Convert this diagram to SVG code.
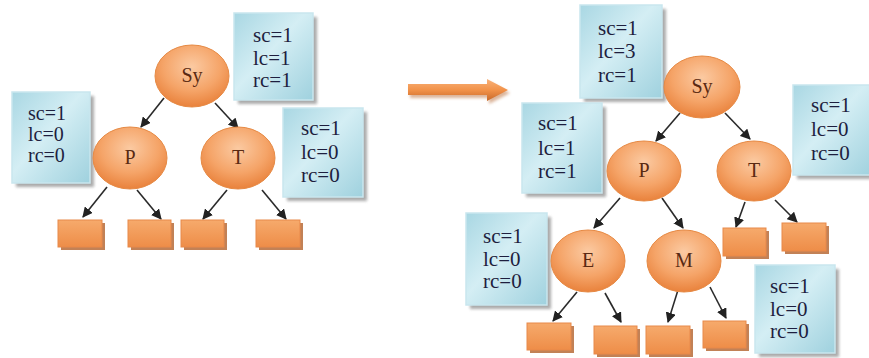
<svg xmlns="http://www.w3.org/2000/svg" width="869" height="358" viewBox="0 0 869 358">
<defs>
  <radialGradient id="gEll" cx="50%" cy="35%" r="65%">
    <stop offset="0" stop-color="#fbcaa2"/>
    <stop offset="0.6" stop-color="#f5a468"/>
    <stop offset="1" stop-color="#e9823c"/>
  </radialGradient>
  <linearGradient id="gBox" x1="0" y1="0" x2="1" y2="1">
    <stop offset="0" stop-color="#a9d7e3"/>
    <stop offset="0.45" stop-color="#d4eef4"/>
    <stop offset="1" stop-color="#9fd1de"/>
  </linearGradient>
  <linearGradient id="gLeaf" x1="0" y1="0" x2="0" y2="1">
    <stop offset="0" stop-color="#f6aa6c"/>
    <stop offset="1" stop-color="#ee8d48"/>
  </linearGradient>
  <linearGradient id="gArrow" x1="0" y1="0" x2="0" y2="1">
    <stop offset="0" stop-color="#f8b27a"/>
    <stop offset="0.5" stop-color="#f29249"/>
    <stop offset="1" stop-color="#c8692a"/>
  </linearGradient>
  <filter id="blur" x="-10%" y="-10%" width="130%" height="130%">
    <feGaussianBlur stdDeviation="1.5"/>
  </filter>
  <marker id="ah" viewBox="0 0 10 10" refX="9" refY="5" markerWidth="6.5" markerHeight="6.5" orient="auto" markerUnits="strokeWidth">
    <path d="M0,0 L10,5 L0,10 z" fill="#222"/>
  </marker>
</defs>
<style>
  .ell { fill: url(#gEll); stroke: #e68a45; stroke-width: 1; }
  .box { fill: url(#gBox); stroke: #c9e6ee; stroke-width: 1.5; }
  .shadow { fill: #8f8f8f; opacity: 0.75; filter: url(#blur); }
  .leaf { fill: url(#gLeaf); stroke: #e8894a; stroke-width: 1; }
  .lshadow { fill: #b3622c; opacity: 0.8; }
  .bt { font-family: "Liberation Serif", "Times New Roman", serif; font-size: 21px; fill: #1e1e3e; }
  .bts { font-size: 20px; }
  .nt { font-family: "Liberation Serif", "Times New Roman", serif; font-size: 20px; fill: #5a2a12; text-anchor: middle; }
  .edge { stroke: #2a2a2a; stroke-width: 1.6; fill: none; marker-end: url(#ah); }
</style>

<!-- connectors -->
<g id="connectors">
  <!-- left tree -->
  <line class="edge" x1="164" y1="98" x2="141" y2="127"/>
  <line class="edge" x1="215" y1="103" x2="238" y2="128"/>
  <line class="edge" x1="107" y1="187" x2="83" y2="217"/>
  <line class="edge" x1="137" y1="190" x2="161" y2="219"/>
  <line class="edge" x1="227" y1="190" x2="203" y2="219"/>
  <line class="edge" x1="262" y1="190" x2="286" y2="219"/>
  <!-- right tree -->
  <line class="edge" x1="680" y1="113" x2="656" y2="141"/>
  <line class="edge" x1="725" y1="113" x2="750" y2="139"/>
  <line class="edge" x1="620" y1="198" x2="594" y2="228"/>
  <line class="edge" x1="662" y1="198" x2="683" y2="228"/>
  <line class="edge" x1="745" y1="202" x2="736" y2="227"/>
  <line class="edge" x1="775" y1="200" x2="797" y2="222"/>
  <line class="edge" x1="577" y1="292" x2="553" y2="321"/>
  <line class="edge" x1="605" y1="293" x2="621" y2="322"/>
  <line class="edge" x1="678" y1="290" x2="668" y2="322"/>
  <line class="edge" x1="710" y1="287" x2="726" y2="318"/>
  <!-- transformation arrow -->
  <g id="bigArrow">
    <polygon points="410,87 489,87 489,82 510,93 489,104 489,98 410,98" fill="#b86a34" opacity="0.5" filter="url(#blur)"/>
    <polygon points="408,84 487,84 487,79 508,90 487,101 487,95 408,95" fill="url(#gArrow)"/>
  </g>
</g>

<!-- ===== left tree ===== -->
<g id="L_box_Sy">
  <rect class="shadow" x="238" y="17" width="79" height="87"/>
  <rect class="box" x="234" y="13" width="79" height="87"/>
  <text class="bt" x="253" y="42">sc=1</text>
  <text class="bt" x="253" y="65">lc=1</text>
  <text class="bt" x="253" y="87">rc=1</text>
</g>
<g id="L_box_P">
  <rect class="shadow" x="16" y="96" width="78" height="91"/>
  <rect class="box" x="12" y="92" width="78" height="91"/>
  <text class="bt bts" x="28" y="120">sc=1</text>
  <text class="bt bts" x="28" y="141">lc=0</text>
  <text class="bt bts" x="28" y="162">rc=0</text>
</g>
<g id="L_box_T">
  <rect class="shadow" x="287" y="112" width="80" height="89"/>
  <rect class="box" x="283" y="108" width="80" height="89"/>
  <text class="bt" x="301" y="135">sc=1</text>
  <text class="bt" x="301" y="159">lc=0</text>
  <text class="bt" x="301" y="182">rc=0</text>
</g>
<g id="L_Sy">
  <ellipse class="ell" cx="192" cy="76" rx="37" ry="31"/>
  <text class="nt" x="192" y="82">Sy</text>
</g>
<g id="L_P">
  <ellipse class="ell" cx="130" cy="158" rx="37" ry="31"/>
  <text class="nt" x="130" y="164">P</text>
</g>
<g id="L_T">
  <ellipse class="ell" cx="238" cy="158" rx="37" ry="31"/>
  <text class="nt" x="238" y="164">T</text>
</g>
<g id="L_leaf1"><rect class="lshadow" x="61" y="223" width="44" height="27"/><rect class="leaf" x="58" y="220" width="44" height="27"/></g>
<g id="L_leaf2"><rect class="lshadow" x="131" y="223" width="43" height="27"/><rect class="leaf" x="128" y="220" width="43" height="27"/></g>
<g id="L_leaf3"><rect class="lshadow" x="184" y="223" width="43" height="27"/><rect class="leaf" x="181" y="220" width="43" height="27"/></g>
<g id="L_leaf4"><rect class="lshadow" x="259" y="223" width="44" height="27"/><rect class="leaf" x="256" y="220" width="44" height="27"/></g>

<!-- ===== right tree ===== -->
<g id="R_box_Sy">
  <rect class="shadow" x="584" y="9" width="82" height="93"/>
  <rect class="box" x="580" y="5" width="82" height="93"/>
  <text class="bt" x="598" y="35">sc=1</text>
  <text class="bt" x="598" y="58">lc=3</text>
  <text class="bt" x="598" y="82">rc=1</text>
</g>
<g id="R_box_P">
  <rect class="shadow" x="526" y="107" width="80" height="90"/>
  <rect class="box" x="522" y="103" width="80" height="90"/>
  <text class="bt" x="538" y="130">sc=1</text>
  <text class="bt" x="538" y="155">lc=1</text>
  <text class="bt" x="538" y="178">rc=1</text>
</g>
<g id="R_box_T">
  <rect class="shadow" x="797" y="89" width="80" height="90"/>
  <rect class="box" x="793" y="85" width="80" height="90"/>
  <text class="bt" x="811" y="112">sc=1</text>
  <text class="bt" x="811" y="136">lc=0</text>
  <text class="bt" x="811" y="160">rc=0</text>
</g>
<g id="R_box_E">
  <rect class="shadow" x="470" y="217" width="81" height="92"/>
  <rect class="box" x="466" y="213" width="81" height="92"/>
  <text class="bt" x="483" y="243">sc=1</text>
  <text class="bt" x="483" y="266">lc=0</text>
  <text class="bt" x="483" y="288">rc=0</text>
</g>
<g id="R_box_M">
  <rect class="shadow" x="759" y="269" width="80" height="88"/>
  <rect class="box" x="755" y="265" width="80" height="88"/>
  <text class="bt" x="770" y="293">sc=1</text>
  <text class="bt" x="770" y="316">lc=0</text>
  <text class="bt" x="770" y="338">rc=0</text>
</g>
<g id="R_Sy">
  <ellipse class="ell" cx="702" cy="87" rx="38" ry="31"/>
  <text class="nt" x="702" y="93">Sy</text>
</g>
<g id="R_P">
  <ellipse class="ell" cx="644" cy="171" rx="37" ry="30"/>
  <text class="nt" x="644" y="177">P</text>
</g>
<g id="R_T">
  <ellipse class="ell" cx="754" cy="171" rx="37" ry="30"/>
  <text class="nt" x="754" y="177">T</text>
</g>
<g id="R_E">
  <ellipse class="ell" cx="588" cy="261" rx="37" ry="31"/>
  <text class="nt" x="588" y="267">E</text>
</g>
<g id="R_M">
  <ellipse class="ell" cx="684" cy="261" rx="37" ry="31"/>
  <text class="nt" x="684" y="267">M</text>
</g>
<g id="R_leafT1"><rect class="lshadow" x="726" y="231" width="43" height="28"/><rect class="leaf" x="723" y="228" width="43" height="28"/></g>
<g id="R_leafT2"><rect class="lshadow" x="785" y="226" width="44" height="28"/><rect class="leaf" x="782" y="223" width="44" height="28"/></g>
<g id="R_leafE1"><rect class="lshadow" x="530" y="326" width="44" height="27"/><rect class="leaf" x="527" y="323" width="44" height="27"/></g>
<g id="R_leafE2"><rect class="lshadow" x="597" y="329" width="43" height="28"/><rect class="leaf" x="594" y="326" width="43" height="28"/></g>
<g id="R_leafM1"><rect class="lshadow" x="649" y="329" width="44" height="28"/><rect class="leaf" x="646" y="326" width="44" height="28"/></g>
<g id="R_leafM2"><rect class="lshadow" x="706" y="324" width="43" height="27"/><rect class="leaf" x="703" y="321" width="43" height="27"/></g>
</svg>
